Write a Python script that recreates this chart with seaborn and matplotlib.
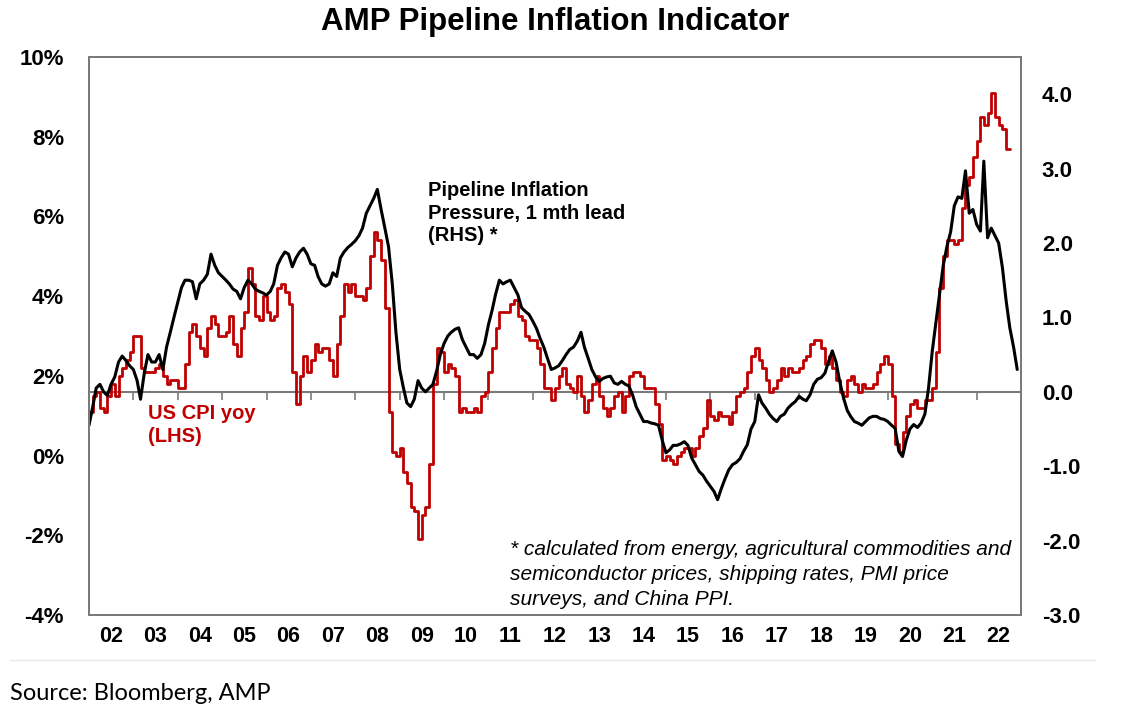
import numpy as np
import pandas as pd
import matplotlib
matplotlib.use("Agg")
import matplotlib.pyplot as plt
import matplotlib.dates as mdates
from matplotlib.lines import Line2D
import seaborn as sns

# US CPI yoy (%), monthly Jan 2002 - Oct 2022 (LHS)
cpi_yoy = [
    1.1, 1.1, 1.5, 1.6, 1.2, 1.1, 1.5, 1.8, 1.5, 2.0, 2.2, 2.4,
    2.6, 3.0, 3.0, 2.2, 2.1, 2.1, 2.1, 2.2, 2.3, 2.0, 1.8, 1.9,
    1.9, 1.7, 1.7, 2.3, 3.1, 3.3, 3.0, 2.7, 2.5, 3.2, 3.5, 3.3,
    3.0, 3.0, 3.1, 3.5, 2.8, 2.5, 3.2, 3.6, 4.7, 4.3, 3.5, 3.4,
    4.0, 3.6, 3.4, 3.5, 4.2, 4.3, 4.1, 3.8, 2.1, 1.3, 2.0, 2.5,
    2.1, 2.4, 2.8, 2.6, 2.7, 2.7, 2.4, 2.0, 2.8, 3.5, 4.3, 4.1,
    4.3, 4.0, 4.0, 3.9, 4.2, 5.0, 5.6, 5.4, 4.9, 3.7, 1.1, 0.1,
    0.0, 0.2, -0.4, -0.7, -1.3, -1.4, -2.1, -1.5, -1.3, -0.2, 1.8, 2.7,
    2.6, 2.1, 2.3, 2.2, 2.0, 1.1, 1.2, 1.1, 1.1, 1.2, 1.1, 1.5,
    1.6, 2.1, 2.7, 3.2, 3.6, 3.6, 3.6, 3.8, 3.9, 3.5, 3.4, 3.0,
    2.9, 2.9, 2.7, 2.3, 1.7, 1.7, 1.4, 1.7, 2.0, 2.2, 1.8, 1.7,
    1.6, 2.0, 1.5, 1.1, 1.4, 1.8, 2.0, 1.5, 1.2, 1.0, 1.2, 1.5,
    1.6, 1.1, 1.5, 2.0, 2.1, 2.1, 2.0, 1.7, 1.7, 1.7, 1.3, 0.8,
    -0.1, 0.0, -0.1, -0.2, 0.0, 0.1, 0.2, 0.2, 0.0, 0.2, 0.5, 0.7,
    1.4, 1.0, 0.9, 1.1, 1.0, 1.0, 0.8, 1.1, 1.5, 1.6, 1.7, 2.1,
    2.5, 2.7, 2.4, 2.2, 1.9, 1.6, 1.7, 1.9, 2.2, 2.0, 2.2, 2.1,
    2.1, 2.2, 2.4, 2.5, 2.8, 2.9, 2.9, 2.7, 2.3, 2.5, 2.2, 1.9,
    1.6, 1.5, 1.9, 2.0, 1.8, 1.6, 1.8, 1.7, 1.7, 1.8, 2.1, 2.3,
    2.5, 2.3, 1.5, 0.3, 0.1, 0.6, 1.0, 1.3, 1.4, 1.2, 1.2, 1.4,
    1.4, 1.7, 2.6, 4.2, 5.0, 5.4, 5.4, 5.3, 5.4, 6.2, 6.8, 7.0,
    7.5, 7.9, 8.5, 8.3, 8.6, 9.1, 8.5, 8.3, 8.2, 7.7,
]

# Pipeline inflation pressure indicator, monthly Jan 2002 - Dec 2022 (RHS)
pipeline = [
    -0.45, -0.2, 0.05, 0.1, 0.0, -0.05, 0.1, 0.2, 0.4, 0.48, 0.42, 0.35,
    0.3, 0.15, -0.1, 0.25, 0.5, 0.4, 0.4, 0.5, 0.3, 0.6, 0.8, 1.0,
    1.2, 1.4, 1.5, 1.5, 1.48, 1.25, 1.45, 1.5, 1.58, 1.85, 1.7, 1.6,
    1.55, 1.5, 1.45, 1.38, 1.35, 1.25, 1.4, 1.5, 1.45, 1.38, 1.35, 1.33,
    1.3, 1.35, 1.45, 1.7, 1.8, 1.88, 1.85, 1.68, 1.8, 1.88, 1.93, 1.85,
    1.72, 1.7, 1.55, 1.45, 1.42, 1.45, 1.6, 1.55, 1.8, 1.88, 1.94, 1.98,
    2.03, 2.1, 2.2, 2.4, 2.5, 2.6, 2.72, 2.45, 2.2, 1.95, 1.45, 0.8,
    0.3, 0.05, -0.15, -0.2, -0.1, 0.15, 0.05, 0.0, 0.05, 0.1, 0.28, 0.5,
    0.65, 0.75, 0.8, 0.84, 0.86, 0.7, 0.6, 0.5, 0.5, 0.45, 0.5, 0.65,
    0.9, 1.1, 1.31, 1.5, 1.45, 1.48, 1.5, 1.4, 1.3, 1.13, 1.08, 1.04,
    0.95, 0.85, 0.72, 0.6, 0.45, 0.3, 0.32, 0.35, 0.42, 0.5, 0.57, 0.6,
    0.68, 0.8, 0.6, 0.45, 0.3, 0.2, 0.14, 0.18, 0.2, 0.21, 0.12, 0.1,
    0.14, 0.1, 0.08, -0.04, -0.2, -0.3, -0.4, -0.4, -0.42, -0.43, -0.45, -0.65,
    -0.82, -0.78, -0.72, -0.72, -0.7, -0.67, -0.72, -0.89, -0.98, -1.07, -1.12, -1.2,
    -1.27, -1.34, -1.45, -1.3, -1.17, -1.05, -0.98, -0.95, -0.9, -0.8, -0.71, -0.5,
    -0.4, -0.04, -0.15, -0.22, -0.3, -0.36, -0.4, -0.33, -0.3, -0.22, -0.17, -0.13,
    -0.06, -0.1, -0.12, -0.04, 0.1, 0.17, 0.19, 0.25, 0.41, 0.55, 0.4, 0.14,
    -0.08, -0.25, -0.33, -0.4, -0.42, -0.45, -0.4, -0.35, -0.33, -0.33, -0.36, -0.37,
    -0.4, -0.45, -0.49, -0.8, -0.87, -0.65, -0.5, -0.44, -0.48, -0.42, -0.3, 0.05,
    0.55, 0.95, 1.31, 1.7, 1.95, 2.15, 2.5, 2.62, 2.6, 2.97, 2.4, 2.45,
    2.25, 2.16, 3.1, 2.07, 2.2, 2.1, 2.0, 1.67, 1.22, 0.86, 0.6, 0.3,
]

year_labels = ["02", "03", "04", "05", "06", "07", "08", "09", "10", "11", "12",
               "13", "14", "15", "16", "17", "18", "19", "20", "21", "22"]
left_ticks = [-4, -2, 0, 2, 4, 6, 8, 10]
right_ticks = [-3, -2, -1, 0, 1, 2, 3, 4]

RED = "#C00000"
FRAME = "#7a7a7a"

cpi_dates = pd.date_range("2002-01-01", periods=len(cpi_yoy), freq="MS")
pipe_dates = pd.date_range("2002-01-01", periods=len(pipeline), freq="MS")

sns.set_style("white")
plt.rcParams["font.family"] = ["Liberation Sans", "DejaVu Sans"]
plt.rcParams["text.color"] = "black"
plt.rcParams["xtick.color"] = "black"
plt.rcParams["ytick.color"] = "black"

W, H = 1121, 722
fig = plt.figure(figsize=(W / 100, H / 100), dpi=100)
ax = fig.add_axes([89 / W, 1 - 615 / H, 932 / W, 558 / H])
ax2 = ax.twinx()

sns.lineplot(x=cpi_dates, y=cpi_yoy, ax=ax, color=RED, linewidth=2.0,
             drawstyle="steps-pre", estimator=None)
sns.lineplot(x=pipe_dates, y=pipeline, ax=ax2, color="black", linewidth=2.2,
             estimator=None)

ax.set_xlim(pd.Timestamp("2002-01-01"), pd.Timestamp("2023-01-01"))
ax.set_ylim(-4, 10)
ax2.set_ylim(-3, 4.5)

ax.set_yticks(left_ticks)
ax.set_yticklabels([f"{t}%" for t in left_ticks])
ax2.set_yticks(right_ticks)
ax2.set_yticklabels([f"{t:.1f}" for t in right_ticks])

mid_years = [pd.Timestamp(f"{2002 + i}-07-01") for i in range(len(year_labels))]
ax.set_xticks(mid_years)
ax.set_xticklabels(year_labels)
ax.set_xlabel("")
ax.set_ylabel("")
ax2.set_ylabel("")

ax.tick_params(axis="y", length=0, pad=18, labelsize=16, labelcolor="black")
ax2.tick_params(axis="y", length=0, pad=15, labelsize=16, labelcolor="black")
ax.tick_params(axis="x", length=0, pad=8, labelsize=15.5, labelcolor="black")
for lab in ax.get_yticklabels() + ax2.get_yticklabels() + ax.get_xticklabels():
    lab.set_fontweight("bold")

for a in (ax, ax2):
    for sp in a.spines.values():
        sp.set_visible(True)
        sp.set_color(FRAME)
        sp.set_linewidth(1.4)

# zero line of the RHS with year ticks
sec = ax.secondary_xaxis(3 / 7.5)
year_starts = pd.date_range("2003-01-01", "2022-01-01", freq="YS")
sec.set_xticks(mdates.date2num(year_starts))
sec.tick_params(axis="x", length=6, width=1.2, color=FRAME,
                labelbottom=False, labeltop=False)
for sp in sec.spines.values():
    sp.set_color(FRAME)
    sp.set_linewidth(1.5)

ax2.text(0.364, 0.778, "Pipeline Inflation\nPressure, 1 mth lead\n(RHS) *",
         transform=ax.transAxes, fontsize=14.5, fontweight="bold",
         color="black", ha="left", va="top", linespacing=1.25)
ax2.text(0.063, 0.378, "US CPI yoy\n(LHS)", transform=ax.transAxes,
         fontsize=14.5, fontweight="bold", color=RED, ha="left", va="top",
         linespacing=1.25)
ax2.text(0.452, 0.134,
         "* calculated from energy, agricultural commodities and\n"
         "semiconductor prices, shipping rates, PMI price\n"
         "surveys, and China PPI.",
         transform=ax.transAxes, fontsize=15, style="italic", color="black",
         ha="left", va="top", linespacing=1.4)

fig.text(0.495, 0.99, "AMP Pipeline Inflation Indicator", ha="center",
         va="top", fontsize=22.5, fontweight="bold", color="black")
fig.text(10 / W, 1 - 694 / H, "Source: Bloomberg, AMP", ha="left",
         va="center", fontsize=17, color="black", family=["Lato", "DejaVu Sans"])
fig.add_artist(Line2D([10 / W, 1095 / W], [1 - 660 / H, 1 - 660 / H],
                      color="#e8e8e8", linewidth=1.0))

fig.savefig("out.png", dpi=100)
